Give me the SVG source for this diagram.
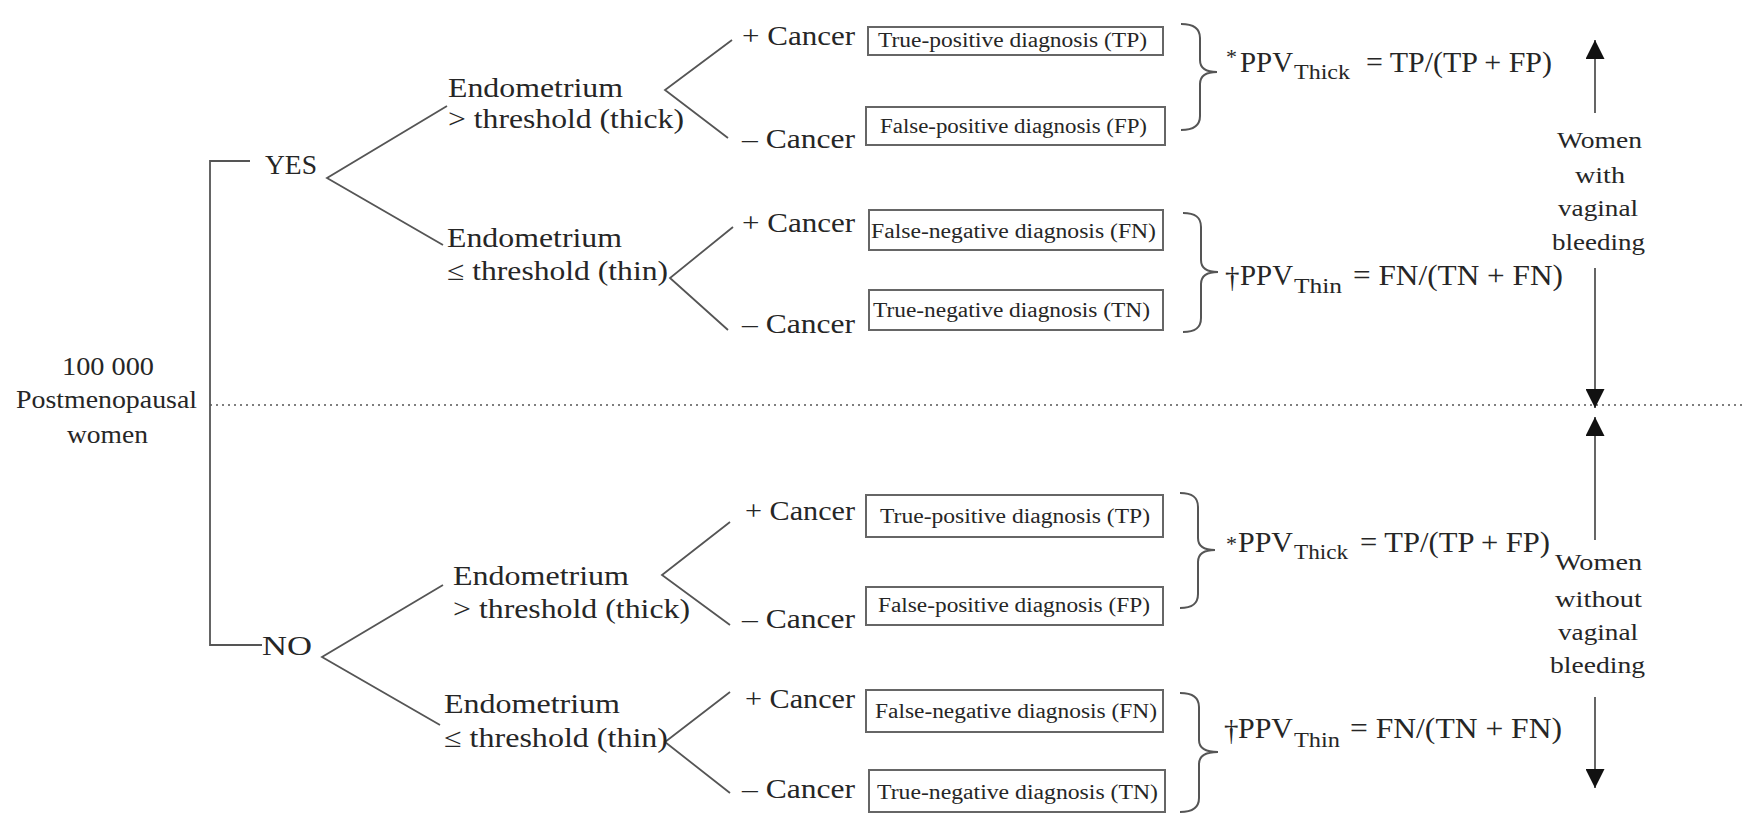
<svg xmlns="http://www.w3.org/2000/svg" width="1746" height="813" viewBox="0 0 1746 813">
<defs>
<style>
text{font-family:"Liberation Serif","Times New Roman",serif;fill:#262626;}
.m{font-size:27px;}
.c{font-size:28px;}
.s{font-size:25px;}
.b{font-size:20px;}
.f{font-size:29px;}
.sub{font-size:22px;}
.w{font-size:23px;}
.ln{stroke:#555;stroke-width:1.8;fill:none;}
.box{stroke:#666;stroke-width:2;fill:#fff;}
.br{stroke:#555;stroke-width:2;fill:none;}
.dot{stroke:#555;stroke-width:1.6;stroke-dasharray:2 4;fill:none;}
</style>
<marker id="ah" viewBox="0 0 10 10" refX="10" refY="5" markerWidth="19" markerHeight="19" markerUnits="userSpaceOnUse" orient="auto"><path d="M0,0 L10,5 L0,10 z" fill="#111"/></marker>
</defs>
<rect width="1746" height="813" fill="#fff"/>

<g id="connectors">
<path class="ln" d="M250,161 H210 V645 H262"/>
<path class="ln" d="M447,106 L327,178 L443,245"/>
<path class="ln" d="M443,585 L322,657 L440,725"/>
<path class="ln" d="M732,40 L665,90 L728,138"/>
<path class="ln" d="M733,227 L670,278 L728,330"/>
<path class="ln" d="M730,522 L662,575 L730,625"/>
<path class="ln" d="M730,692 L665,742 L730,793"/>
<line class="dot" x1="210" y1="405" x2="1746" y2="405"/>
<line class="ln" x1="1595" y1="113" x2="1595" y2="40" marker-end="url(#ah)"/>
<line class="ln" x1="1595" y1="268" x2="1595" y2="408" marker-end="url(#ah)"/>
<line class="ln" x1="1595" y1="540" x2="1595" y2="417" marker-end="url(#ah)"/>
<line class="ln" x1="1595" y1="697" x2="1595" y2="788" marker-end="url(#ah)"/>
<path class="br" d="M1181,24 C1193,24 1200,28 1200,38 L1200,60 C1200,68 1206,72 1217,72 C1206,72 1200,76 1200,84 L1200,116 C1200,126 1193,130 1181,130"/>
<path class="br" d="M1183,213 C1195,213 1201,217 1201,227 L1201,260 C1201,268 1207,272 1218,272 C1207,272 1201,276 1201,284 L1201,318 C1201,328 1195,332 1183,332"/>
<path class="br" d="M1180,493 C1192,493 1198,497 1198,507 L1198,538 C1198,546 1204,550 1215,550 C1204,550 1198,554 1198,562 L1198,594 C1198,604 1192,608 1180,608"/>
<path class="br" d="M1180,693 C1192,693 1199,697 1199,707 L1199,740 C1199,748 1205,752 1218,752 C1205,752 1199,756 1199,764 L1199,798 C1199,808 1192,812 1180,812"/>
</g>

<g id="root">
<text class="s" x="62" y="375" textLength="92" lengthAdjust="spacingAndGlyphs">100 000</text>
<text class="s" x="16" y="408" textLength="181" lengthAdjust="spacingAndGlyphs">Postmenopausal</text>
<text class="s" x="67" y="443" textLength="81" lengthAdjust="spacingAndGlyphs">women</text>
</g>
<g id="yes"><text class="c" x="265" y="174" textLength="52" lengthAdjust="spacingAndGlyphs">YES</text></g>
<g id="no"><text class="c" x="262" y="655" textLength="50" lengthAdjust="spacingAndGlyphs">NO</text></g>

<g id="yes-thick">
<text class="m" x="448" y="97" textLength="175" lengthAdjust="spacingAndGlyphs">Endometrium</text>
<text class="m" x="448" y="128" textLength="236" lengthAdjust="spacingAndGlyphs">&gt; threshold (thick)</text>
</g>
<g id="yes-thin">
<text class="m" x="447" y="247" textLength="175" lengthAdjust="spacingAndGlyphs">Endometrium</text>
<text class="m" x="447" y="280" textLength="221" lengthAdjust="spacingAndGlyphs">≤ threshold (thin)</text>
</g>
<g id="no-thick">
<text class="m" x="453" y="585" textLength="176" lengthAdjust="spacingAndGlyphs">Endometrium</text>
<text class="m" x="453" y="618" textLength="237" lengthAdjust="spacingAndGlyphs">&gt; threshold (thick)</text>
</g>
<g id="no-thin">
<text class="m" x="444" y="713" textLength="176" lengthAdjust="spacingAndGlyphs">Endometrium</text>
<text class="m" x="444" y="747" textLength="224" lengthAdjust="spacingAndGlyphs">≤ threshold (thin)</text>
</g>

<g id="cancer-labels">
<text class="c" x="742" y="45" textLength="113" lengthAdjust="spacingAndGlyphs">+ Cancer</text>
<text class="c" x="742" y="148" textLength="113" lengthAdjust="spacingAndGlyphs">– Cancer</text>
<text class="c" x="742" y="232" textLength="113" lengthAdjust="spacingAndGlyphs">+ Cancer</text>
<text class="c" x="742" y="333" textLength="113" lengthAdjust="spacingAndGlyphs">– Cancer</text>
<text class="c" x="745" y="520" textLength="110" lengthAdjust="spacingAndGlyphs">+ Cancer</text>
<text class="c" x="742" y="628" textLength="113" lengthAdjust="spacingAndGlyphs">– Cancer</text>
<text class="c" x="745" y="708" textLength="110" lengthAdjust="spacingAndGlyphs">+ Cancer</text>
<text class="c" x="742" y="798" textLength="113" lengthAdjust="spacingAndGlyphs">– Cancer</text>
</g>

<g id="box-yes-tp"><rect class="box" x="868" y="27" width="295" height="28"/><text class="b" x="878" y="47" textLength="269" lengthAdjust="spacingAndGlyphs">True-positive diagnosis (TP)</text></g>
<g id="box-yes-fp"><rect class="box" x="866" y="107" width="299" height="38"/><text class="b" x="880" y="133" textLength="267" lengthAdjust="spacingAndGlyphs">False-positive diagnosis (FP)</text></g>
<g id="box-yes-fn"><rect class="box" x="869" y="210" width="294" height="40"/><text class="b" x="871" y="238" textLength="285" lengthAdjust="spacingAndGlyphs">False-negative diagnosis (FN)</text></g>
<g id="box-yes-tn"><rect class="box" x="869" y="290" width="294" height="40"/><text class="b" x="873" y="317" textLength="277" lengthAdjust="spacingAndGlyphs">True-negative diagnosis (TN)</text></g>
<g id="box-no-tp"><rect class="box" x="866" y="495" width="297" height="42"/><text class="b" x="880" y="523" textLength="270" lengthAdjust="spacingAndGlyphs">True-positive diagnosis (TP)</text></g>
<g id="box-no-fp"><rect class="box" x="866" y="587" width="297" height="38"/><text class="b" x="878" y="612" textLength="272" lengthAdjust="spacingAndGlyphs">False-positive diagnosis (FP)</text></g>
<g id="box-no-fn"><rect class="box" x="866" y="690" width="297" height="42"/><text class="b" x="875" y="718" textLength="282" lengthAdjust="spacingAndGlyphs">False-negative diagnosis (FN)</text></g>
<g id="box-no-tn"><rect class="box" x="869" y="770" width="296" height="42"/><text class="b" x="877" y="799" textLength="281" lengthAdjust="spacingAndGlyphs">True-negative diagnosis (TN)</text></g>

<g id="ppv-yes-thick">
<text class="sub" x="1226" y="64">*</text>
<text class="f" x="1240" y="72" textLength="53" lengthAdjust="spacingAndGlyphs">PPV</text>
<text class="sub" x="1294" y="79" textLength="56" lengthAdjust="spacingAndGlyphs">Thick</text>
<text class="f" x="1366" y="72" textLength="186" lengthAdjust="spacingAndGlyphs">= TP/(TP + FP)</text>
</g>
<g id="ppv-yes-thin">
<text class="f" x="1225" y="287">†</text>
<text class="f" x="1240" y="285" textLength="53" lengthAdjust="spacingAndGlyphs">PPV</text>
<text class="sub" x="1294" y="293" textLength="48" lengthAdjust="spacingAndGlyphs">Thin</text>
<text class="f" x="1353" y="285" textLength="210" lengthAdjust="spacingAndGlyphs">= FN/(TN + FN)</text>
</g>
<g id="ppv-no-thick">
<text class="sub" x="1226" y="551">*</text>
<text class="f" x="1238" y="552" textLength="55" lengthAdjust="spacingAndGlyphs">PPV</text>
<text class="sub" x="1294" y="559" textLength="54" lengthAdjust="spacingAndGlyphs">Thick</text>
<text class="f" x="1360" y="552" textLength="190" lengthAdjust="spacingAndGlyphs">= TP/(TP + FP)</text>
</g>
<g id="ppv-no-thin">
<text class="f" x="1224" y="740">†</text>
<text class="f" x="1238" y="738" textLength="55" lengthAdjust="spacingAndGlyphs">PPV</text>
<text class="sub" x="1294" y="747" textLength="46" lengthAdjust="spacingAndGlyphs">Thin</text>
<text class="f" x="1350" y="738" textLength="212" lengthAdjust="spacingAndGlyphs">= FN/(TN + FN)</text>
</g>

<g id="with-bleeding">
<text class="w" x="1557" y="148" textLength="85" lengthAdjust="spacingAndGlyphs">Women</text>
<text class="w" x="1575" y="183" textLength="50" lengthAdjust="spacingAndGlyphs">with</text>
<text class="w" x="1558" y="216" textLength="80" lengthAdjust="spacingAndGlyphs">vaginal</text>
<text class="w" x="1552" y="250" textLength="93" lengthAdjust="spacingAndGlyphs">bleeding</text>
</g>
<g id="without-bleeding">
<text class="w" x="1555" y="570" textLength="87" lengthAdjust="spacingAndGlyphs">Women</text>
<text class="w" x="1555" y="607" textLength="87" lengthAdjust="spacingAndGlyphs">without</text>
<text class="w" x="1558" y="640" textLength="80" lengthAdjust="spacingAndGlyphs">vaginal</text>
<text class="w" x="1550" y="673" textLength="95" lengthAdjust="spacingAndGlyphs">bleeding</text>
</g>
</svg>
